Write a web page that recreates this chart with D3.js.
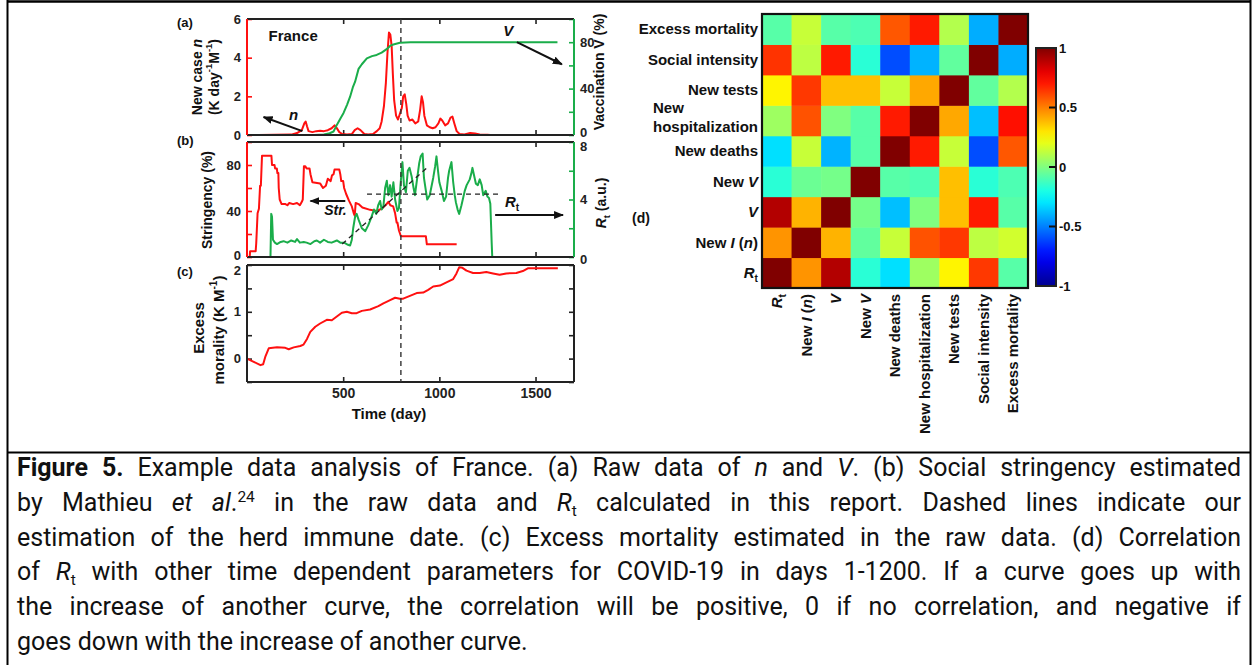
<!DOCTYPE html>
<html><head><meta charset="utf-8">
<script src="https://cdn.jsdelivr.net/npm/d3@7"></script>
<style>
body{margin:0;background:#fff;}
svg{display:block;}
text{font-family:"Liberation Sans",Arial,sans-serif;}
text.cap{font-family:Roboto,"Noto Sans",sans-serif;}
</style></head>
<body><div id="chart"></div>
<script>
// ---------------- DATA ----------------
const dayDomain = [0, 1700];
const dayTicks = [500, 1000, 1500];
const herdDay = 800;

// (a) new cases n (K day^-1 M^-1)
const newCases = [[60,0],[230,0.02],[260,0.1],[285,0.25],[298,0.6],[305,0.7],[312,0.45],[320,0.2],[340,0.15],[360,0.2],[380,0.22],[400,0.2],[420,0.25],[440,0.35],[455,0.5],[465,0.38],[480,0.15],[495,0.05],[520,0.02],[545,0.05],[560,0.25],[575,0.35],[590,0.25],[610,0.05],[630,0.02],[655,0.05],[675,0.2],[690,0.35],[700,0.7],[712,1.5],[722,2.7],[730,4.2],[738,5.3],[745,5.2],[752,4.6],[758,3.2],[765,1.8],[775,1.0],[785,0.8],[795,1.1],[805,1.4],[812,2.0],[820,2.1],[828,1.6],[835,1.0],[845,0.75],[860,0.8],[875,0.6],[890,0.7],[900,1.3],[908,2.0],[915,1.7],[922,1.0],[935,0.5],[950,0.4],[965,0.35],[980,0.4],[995,0.6],[1005,0.85],[1015,0.75],[1030,0.5],[1045,0.6],[1058,0.9],[1068,0.95],[1078,0.6],[1090,0.2],[1105,0.05],[1130,0.03],[1160,0.1],[1185,0.08],[1210,0.03],[1250,0.01],[1265,0]];
// (a) vaccination V (%)
const vaccination = [[0,0],[350,0],[400,0.5],[430,1.5],[450,3],[467,8.7],[485,14],[502,19],[520,26],[536,33],[550,41],[562,46],[580,57],[597,61],[623,66],[650,68],[674,69],[700,71],[726,74],[745,77],[761,78],[795,79.5],[850,80],[1614,80]];
// (b) stringency (%)
const stringency = [[0,0],[14,0],[16,5],[45,5],[48,12],[55,38],[62,42],[68,62],[72,62],[78,88],[127,88],[130,80],[143,80],[146,77],[155,77],[158,73],[163,73],[165,60],[170,50],[175,48],[180,46],[200,46],[210,45],[220,47],[240,46],[260,47],[275,45],[285,48],[290,50],[296,79],[303,79],[310,77],[325,77],[330,72],[340,65],[380,64],[395,60],[410,62],[420,68],[435,66],[442,71],[450,72],[455,76],[480,76],[485,72],[490,66],[500,66],[505,60],[515,55],[530,49],[545,44],[555,38],[560,36],[565,47],[580,46],[600,43],[640,41],[675,40],[700,42],[720,45],[735,48],[745,45],[760,44],[770,38],[778,30],[782,30],[790,23],[800,18],[930,18],[935,11],[1090,11]];
// (b) reproduction number Rt (a.u.)
const rt = [[0,0],[122,0],[126,3.0],[130,2.8],[135,1.2],[145,1.0],[156,0.9],[175,1.05],[190,1.1],[210,1.0],[230,1.15],[250,1.05],[260,1.25],[275,1.0],[295,1.05],[310,1.0],[330,0.9],[350,1.1],[363,1.15],[380,1.0],[400,1.2],[420,1.05],[440,1.0],[467,1.15],[485,1.0],[505,1.0],[525,0.85],[536,0.8],[545,1.2],[552,2.0],[562,2.8],[570,3.0],[580,2.6],[597,2.0],[615,1.8],[630,2.2],[645,2.7],[660,3.3],[672,3.0],[682,3.6],[692,3.9],[700,3.3],[709,3.5],[718,4.8],[727,5.3],[735,4.3],[744,5.0],[752,4.2],[761,5.2],[770,4.0],[782,3.2],[790,3.4],[798,5.0],[808,6.6],[816,5.0],[826,4.5],[836,6.0],[845,6.2],[856,5.6],[866,4.8],[873,4.3],[885,5.5],[895,6.5],[903,7.0],[913,7.2],[920,5.5],[930,4.6],[937,4.0],[950,4.3],[968,5.5],[978,6.3],[985,7.0],[993,6.0],[1000,5.2],[1012,4.6],[1024,3.9],[1035,4.2],[1045,5.5],[1051,6.0],[1063,6.6],[1072,5.2],[1080,4.3],[1086,3.8],[1095,3.3],[1103,3.0],[1115,3.6],[1132,4.6],[1142,5.0],[1158,5.4],[1166,5.8],[1172,6.2],[1180,5.7],[1190,5.1],[1200,5.0],[1210,5.4],[1220,5.0],[1228,4.3],[1241,4.6],[1250,4.2],[1258,4.1],[1265,3.7],[1272,1.0],[1275,0],[1700,0]];
const rtPlateau = [[624,4.38],[1313,4.38]];
const rtTrend = [[495,0.9],[940,6.26]];
// (c) excess mortality (K M^-1)
const excessMortality = [[0,0],[35,-0.07],[70,-0.14],[84,-0.12],[96,0.05],[113,0.22],[156,0.24],[199,0.23],[217,0.2],[243,0.24],[277,0.27],[294,0.3],[312,0.42],[329,0.57],[355,0.68],[380,0.75],[415,0.83],[441,0.82],[467,0.9],[493,0.98],[519,1.0],[545,0.97],[570,0.97],[597,1.02],[640,1.05],[683,1.12],[709,1.18],[744,1.25],[770,1.3],[795,1.28],[812,1.28],[847,1.34],[882,1.4],[916,1.41],[942,1.47],[968,1.54],[1003,1.56],[1037,1.63],[1072,1.7],[1089,1.82],[1103,1.95],[1120,1.94],[1141,1.88],[1175,1.83],[1210,1.83],[1244,1.85],[1279,1.82],[1313,1.79],[1348,1.82],[1400,1.83],[1434,1.87],[1460,1.93],[1503,1.93],[1616,1.93]];

// (d) correlation matrix; rows/cols in this variable order
const variables = ["Rt","New I (n)","V","New V","New deaths","New hospitalization","New tests","Social intensity","Excess mortality"];
const corr = [
  [1, 0.46, 0.9, -0.17, -0.31, 0.06, 0.27, 0.64, -0.08],      // Rt
  [0.46, 1, 0.4, -0.06, 0.14, 0.59, 0.64, 0.12, 0.16],        // New I
  [0.9, 0.4, 1, -0.02, -0.375, 0, 0.375, 0.7, -0.08],         // V
  [-0.17, -0.04, -0.02, 1, -0.08, -0.1, 0.375, -0.17, -0.1],  // New V
  [-0.31, 0.14, -0.4, -0.08, 1, 0.7, 0.14, -0.6, 0.58],       // New deaths
  [0.06, 0.59, 0, -0.08, 0.7, 1, 0.42, -0.375, 0.72],         // New hosp
  [0.27, 0.64, 0.375, 0.375, 0.14, 0.42, 1, -0.06, 0.1],      // New tests
  [0.65, 0.12, 0.7, -0.17, -0.6, -0.4, -0.06, 1, -0.41],      // Social
  [-0.08, 0.14, -0.08, -0.1, 0.58, 0.7, 0.1, -0.41, 1]        // Excess
];
const colorbarTicks = [-1, -0.5, 0, 0.5, 1];
const colorbarTickLabels = ["-1", "-0.5", "0", "0.5", "1"];

// ---------------- DRAW ----------------
const W = 1253, H = 665;
const RED = "#ff1010", GREEN = "#1aad4a";
const svg = d3.select("#chart").append("svg").attr("width", W).attr("height", H);
const defs = svg.append("defs");
defs.append("marker").attr("id","arr").attr("viewBox","0 0 10 8").attr("refX",9).attr("refY",4)
  .attr("markerWidth",10).attr("markerHeight",8).attr("markerUnits","userSpaceOnUse").attr("orient","auto")
  .append("path").attr("d","M0,0L10,4L0,8z").attr("fill","#111");

// outer table frame
svg.append("line").attr("x1",7).attr("x2",1251).attr("y1",1.5).attr("y2",1.5).attr("stroke","#000").attr("stroke-width",2.5);
svg.append("line").attr("x1",7.5).attr("x2",7.5).attr("y1",0).attr("y2",H).attr("stroke","#000").attr("stroke-width",2);
svg.append("line").attr("x1",1250.5).attr("x2",1250.5).attr("y1",0).attr("y2",H).attr("stroke","#000").attr("stroke-width",2);
svg.append("line").attr("x1",7).attr("x2",1251).attr("y1",452.5).attr("y2",452.5).attr("stroke","#000").attr("stroke-width",2);

const x = d3.scaleLinear().domain(dayDomain).range([247, 574]);
const P = {a:[19,135], b:[142,257], c:[265,382]};
const yN = d3.scaleLinear().domain([0,6]).range([P.a[1],P.a[0]]);
const yV = d3.scaleLinear().domain([0,100]).range([P.a[1],P.a[0]]);
const yS = d3.scaleLinear().domain([0,100]).range([P.b[1],P.b[0]]);
const yR = d3.scaleLinear().domain([0,8]).range([P.b[1],P.b[0]]);
const yM = d3.scaleLinear().domain([-0.5,2]).range([P.c[1],P.c[0]]);

const fontTick = 13;
function axis(gen, tr, color, labelled, nudge, size){
  const g = svg.append("g").attr("transform", tr).call(gen.tickSizeOuter(0).tickSize(-5).tickPadding(size||6)
    .tickFormat(d => labelled.includes(d) ? d : ""));
  g.select(".domain").remove();
  g.selectAll(".tick line").attr("stroke", color).attr("stroke-width", 1.6);
  g.selectAll(".tick text").attr("fill","#222").attr("font-size",fontTick).attr("font-weight","bold");
  if (nudge) g.selectAll(".tick text").attr("transform", d => nudge[d] ? `translate(0,${nudge[d]})` : null);
  return g;
}
function frame(top, bottom, lc, rc){
  svg.append("line").attr("x1",x.range()[0]).attr("x2",x.range()[1]).attr("y1",top).attr("y2",top).attr("stroke","#222").attr("stroke-width",2);
  svg.append("line").attr("x1",x.range()[0]).attr("x2",x.range()[1]).attr("y1",bottom).attr("y2",bottom).attr("stroke","#222").attr("stroke-width",2);
  svg.append("line").attr("x1",x.range()[0]).attr("x2",x.range()[0]).attr("y1",top).attr("y2",bottom).attr("stroke",lc).attr("stroke-width",2);
  svg.append("line").attr("x1",x.range()[1]).attr("x2",x.range()[1]).attr("y1",top).attr("y2",bottom).attr("stroke",rc).attr("stroke-width",2);
}
function xTicks(top, bottom, labels){
  axis(d3.axisTop(x).tickValues(dayTicks), `translate(0,${top})`, "#222", []);
  const g = axis(d3.axisBottom(x).tickValues(dayTicks), `translate(0,${bottom})`, "#222", labels ? dayTicks : [], null, 6);
  g.selectAll(".tick text").attr("font-size",14);
}
const line = (sx, sy) => d3.line().x(d => sx(d[0])).y(d => sy(d[1]));
function path(data, sy, color, w, dash){
  svg.append("path").datum(data).attr("d", line(x, sy)).attr("fill","none").attr("stroke",color)
    .attr("stroke-width",w||2).attr("stroke-linejoin","round").attr("stroke-dasharray",dash||null);
}
function txt(xp, yp, s, opts){
  opts = opts||{};
  const t = svg.append("text").attr("x",xp).attr("y",yp).attr("font-size",opts.size||14).attr("font-weight","bold")
    .attr("text-anchor",opts.anchor||"start").attr("fill","#111");
  if (opts.rot) t.attr("transform",`rotate(-90,${xp},${yp})`).attr("dy","0.35em");
  rich(t, s);
  return t;
}
function rich(t, segs){
  if (typeof segs === "string") segs = [[segs]];
  let shift = 0;
  segs.forEach(([s, st]) => {
    const sp = t.append("tspan").text(s);
    if (st === "i") sp.attr("font-style","italic");
    if (st === "sub" || st === "sup") {
      const dy = st === "sub" ? 4 : -7;
      sp.attr("font-size","0.68em").attr("font-style","normal").attr("dy", dy); shift += dy;
    } else if (shift) { sp.attr("dy", -shift); shift = 0; }
  });
}

// ---- Panel (a)
xTicks(P.a[0], P.a[1], false);
axis(d3.axisLeft(yN).tickValues([0,2,4,6]), `translate(${x.range()[0]},0)`, RED, [0,2,4,6]);
axis(d3.axisRight(yV).tickValues([0,20,40,60,80,100]), `translate(${x.range()[1]},0)`, GREEN, [0,40,80], {0:-3});
path(newCases, yN, RED, 2);
path(vaccination, yV, GREEN, 2);
frame(P.a[0], P.a[1], RED, GREEN);

// ---- Panel (b)
xTicks(P.b[0], P.b[1], false);
axis(d3.axisLeft(yS).tickValues([0,20,40,60,80,100]), `translate(${x.range()[0]},0)`, RED, [0,40,80], {0:-2});
axis(d3.axisRight(yR).tickValues([0,2,4,6,8]), `translate(${x.range()[1]},0)`, GREEN, [0,4,8], {8:4, 0:2});
path(stringency, yS, RED, 2);
path(rt, yR, GREEN, 2);
path(rtPlateau, yR, "#222", 1.3, "5,4");
path(rtTrend, yR, "#222", 1.3, "5,4");
frame(P.b[0], P.b[1], RED, GREEN);

// ---- Panel (c)
xTicks(P.c[0], P.c[1], true);
axis(d3.axisLeft(yM).tickValues([-0.5,0,0.5,1,1.5,2]), `translate(${x.range()[0]},0)`, "#222", [0,1,2], {2:5});
axis(d3.axisRight(yM).tickValues([-0.5,0,0.5,1,1.5,2]), `translate(${x.range()[1]},0)`, "#222", []);
path(excessMortality, yM, RED, 2);
frame(P.c[0], P.c[1], "#222", "#222");

// herd immunity dashed line
svg.append("line").attr("x1",x(herdDay)).attr("x2",x(herdDay)).attr("y1",P.a[0]).attr("y2",P.c[1])
  .attr("stroke","#333").attr("stroke-width",1.4).attr("stroke-dasharray","5,4");

// annotations (data coordinates)
function arrow(p0, p1, sy){
  svg.append("line").attr("x1",x(p0[0])).attr("y1",sy(p0[1])).attr("x2",x(p1[0])).attr("y2",sy(p1[1]))
    .attr("stroke","#111").attr("stroke-width",2).attr("marker-end","url(#arr)");
}
arrow([288,0.2],[86,0.93], yN);
arrow([1403,80],[1637,61], yV);
arrow([511,48.7],[330,48.7], yS);
arrow([1290,2.92],[1643,2.92], yR);
txt(x(112), yN(4.86), "France", {size:15});
txt(x(242), yN(0.78), [["n","i"]], {size:15, anchor:"middle"});
txt(x(1358), yV(85), [["V","i"]], {size:15, anchor:"middle"});
txt(x(460), yS(36.5), [["Str.","i"]], {size:14, anchor:"middle"});
txt(x(1378), yR(3.45), [["R","i"],["t","sub"]], {size:15, anchor:"middle"});

// panel letters
txt(177, 27, "(a)", {size:13});
txt(177, 145, "(b)", {size:13});
txt(177, 276, "(c)", {size:13});
txt(632, 223, "(d)", {size:14});

// axis titles
txt(197, 77, [["New case "],["n","i"]], {rot:true, anchor:"middle"});
txt(214, 77, [["(K day"],["-1","sup"],["M"],["-1","sup"],[")"]], {rot:true, anchor:"middle"});
txt(599, 72, "Vaccination  V (%)", {rot:true, anchor:"middle"});
txt(207, 200, "Stringency (%)", {rot:true, anchor:"middle"});
txt(601, 203, [["R","i"],["t","sub"],["  (a.u.)"]], {rot:true, anchor:"middle"});
txt(199, 328, "Excess", {rot:true, anchor:"middle", size:15});
txt(219, 330, [["morality  (K M"],["-1","sup"],[")"]], {rot:true, anchor:"middle", size:15});
txt(389, 419, "Time (day)", {anchor:"middle", size:15});

// ---- Panel (d) heatmap
const jet = d3.scaleLinear().domain([-1,-0.75,-0.25,0.25,0.75,1])
  .range(["#00008f","#0000ff","#00ffff","#ffff00","#ff0000","#800000"]).clamp(true);
const idx = d3.range(variables.length);
const xh = d3.scaleBand().domain(idx).range([762, 1028]);
const yh = d3.scaleBand().domain(idx).range([288, 14]);
const cells = [];
corr.forEach((row, r) => row.forEach((v, c) => cells.push({r, c, v})));
svg.append("g").selectAll("rect").data(cells).join("rect")
  .attr("x", d => xh(d.c)).attr("y", d => yh(d.r))
  .attr("width", xh.bandwidth()+0.5).attr("height", yh.bandwidth()+0.5)
  .attr("fill", d => jet(d.v));
svg.append("rect").attr("x",762).attr("y",14).attr("width",266).attr("height",274)
  .attr("fill","none").attr("stroke","#111").attr("stroke-width",2.2);

const labelSegs = [
  [["R","i"],["t","sub"]],
  [["New "],["I","i"],[" ("],["n","i"],[")"]],
  [["V","i"]],
  [["New "],["V","i"]],
  [["New deaths"]],
  [["New hospitalization"]],
  [["New tests"]],
  [["Social intensity"]],
  [["Excess mortality"]]
];
idx.forEach(i => {
  const cy = yh(i) + yh.bandwidth()/2;
  if (variables[i] === "New hospitalization") {
    const t2 = svg.append("text").attr("x",758).attr("y",cy+11).attr("text-anchor","end")
      .attr("font-size",15).attr("font-weight","bold").attr("fill","#111").text("hospitalization");
    const w = t2.node().getComputedTextLength();
    svg.append("text").attr("x",758-w).attr("y",cy-8).attr("font-size",15).attr("font-weight","bold")
      .attr("fill","#111").text("New");
  } else {
    const t = svg.append("text").attr("x",758).attr("y",cy).attr("dy","0.35em").attr("text-anchor","end")
      .attr("font-size",15).attr("font-weight","bold").attr("fill","#111");
    rich(t, labelSegs[i]);
  }
  const cx = xh(i) + xh.bandwidth()/2;
  const tc = svg.append("text").attr("x",cx).attr("y",294).attr("dy","0.35em").attr("text-anchor","end")
    .attr("transform",`rotate(-90,${cx},294)`).attr("font-size",15).attr("font-weight","bold").attr("fill","#111");
  rich(tc, labelSegs[i]);
});

// colorbar
const cb = d3.scaleLinear().domain([-1,1]).range([286, 48]);
const grad = defs.append("linearGradient").attr("id","jetgrad").attr("x1",0).attr("y1",1).attr("x2",0).attr("y2",0);
d3.range(0, 1.0001, 0.05).forEach(t => grad.append("stop").attr("offset",t).attr("stop-color", jet(t*2-1)));
svg.append("rect").attr("x",1036).attr("y",48).attr("width",20).attr("height",238).attr("fill","url(#jetgrad)")
  .attr("stroke","#222").attr("stroke-width",2);
colorbarTicks.forEach((v, i) => {
  if (v > -1 && v < 1) svg.append("line").attr("x1",1049).attr("x2",1056).attr("y1",cb(v)).attr("y2",cb(v))
    .attr("stroke","#111").attr("stroke-width",2);
  svg.append("text").attr("x",1059).attr("y",cb(v)).attr("dy","0.35em").attr("font-size",13)
    .attr("font-weight","bold").attr("fill","#111").text(colorbarTickLabels[i]);
});

// ---- Caption
const captionLines = [
  [["Figure 5.","b"],[" Example data analysis of France. (a) Raw data of "],["n","i"],[" and "],["V","i"],[". (b) Social stringency estimated"]],
  [["by Mathieu "],["et al","i"],["."],["24","sup"],[" in the raw data and "],["R","i"],["t","sub"],[" calculated in this report. Dashed lines indicate our"]],
  [["estimation of the herd immune date. (c) Excess mortality estimated in the raw data. (d) Correlation"]],
  [["of "],["R","i"],["t","sub"],[" with other time dependent parameters for COVID-19 in days 1-1200. If a curve goes up with"]],
  [["the increase of another curve, the correlation will be positive, 0 if no correlation, and negative if"]],
  [["goes down with the increase of another curve."]]
];
const capX0 = 17, capX1 = 1241;
captionLines.forEach((segs, li) => {
  const t = svg.append("text").attr("class","cap").attr("x",capX0).attr("y",476 + li*34.8).attr("font-size",25)
    .attr("fill","#111");
  let shift = 0;
  segs.forEach(([s, st]) => {
    const sp = t.append("tspan").text(s);
    if (st === "b") sp.attr("font-weight","bold");
    if (st === "i") sp.attr("font-style","italic");
    if (st === "sub" || st === "sup") {
      const dy = st === "sub" ? 5 : -9;
      sp.attr("font-size","0.62em").attr("dy", dy); shift += dy;
    } else if (shift) { sp.attr("dy", -shift); shift = 0; }
  });
  if (li < captionLines.length - 1) {
    const natural = t.node().getComputedTextLength();
    const spaces = segs.map(d => d[0]).join("").split(" ").length - 1;
    const ws = (capX1 - capX0 - natural) / spaces;
    t.style("word-spacing", ws + "px");
  }
});
</script></body></html>
